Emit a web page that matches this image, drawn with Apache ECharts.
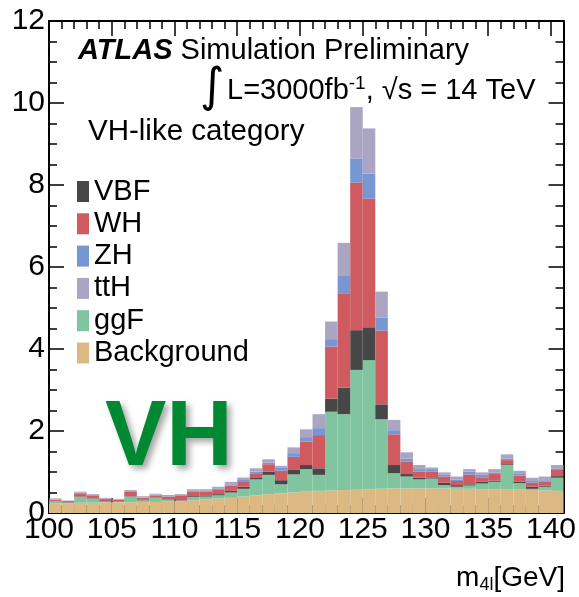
<!DOCTYPE html>
<html>
<head>
<meta charset="utf-8">
<script src="https://cdn.jsdelivr.net/npm/echarts@6/dist/echarts.min.js"></script>
<style>
  html, body { margin: 0; padding: 0; background: #fff; }
  #chart { width: 579px; height: 597px; }
</style>
</head>
<body>
<div id="chart"></div>
<script>
// Lower edges of the 1 GeV bins of m4l
const binLow = [100,101,102,103,104,105,106,107,108,109,110,111,112,113,114,115,116,117,118,119,
                120,121,122,123,124,125,126,127,128,129,130,131,132,133,134,135,136,137,138,139,140];

// Expected events per bin for each process (stacked from the bottom)
const background = [0.24,0.24,0.25,0.25,0.26,0.26,0.26,0.27,0.27,0.28,0.29,0.31,0.33,0.35,0.37,0.40,0.43,0.46,0.48,0.50,
                    0.52,0.54,0.55,0.56,0.57,0.58,0.59,0.60,0.60,0.60,0.60,0.60,0.59,0.59,0.58,0.58,0.57,0.57,0.56,0.55,0.54];
const ggF = [0.05,0.01,0.14,0.10,0.01,0.01,0.14,0.04,0.10,0.05,0.01,0.08,0.07,0.08,0.13,0.19,0.39,0.47,0.22,0.44,
             0.55,0.39,1.92,1.85,2.92,3.15,1.70,0.37,0.29,0.22,0.24,0.08,0.05,0.08,0.14,0.18,0.60,0.16,0.03,0.09,0.32];
const VBF = [0.005,0.01,0.01,0.01,0.01,0.005,0.01,0.01,0.01,0.01,0.01,0.02,0.03,0.03,0.04,0.055,0.05,0.08,0.10,0.11,
             0.10,0.16,0.32,0.65,0.97,0.80,0.36,0.20,0.06,0.04,0.03,0.06,0.04,0.03,0.04,0.03,0.02,0.03,0.05,0.03,0.04];
const WH = [0.03,0.03,0.08,0.06,0.06,0.05,0.11,0.05,0.04,0.06,0.11,0.11,0.09,0.10,0.13,0.13,0.10,0.18,0.23,0.32,
            0.57,0.81,1.27,2.30,3.60,3.14,1.80,0.75,0.30,0.15,0.14,0.15,0.10,0.24,0.11,0.16,0.10,0.15,0.10,0.09,0.15];
const ZH = [0.01,0.005,0.02,0.02,0.01,0.01,0.02,0.01,0.03,0.01,0.02,0.02,0.02,0.04,0.03,0.03,0.04,0.04,0.07,0.09,
            0.11,0.17,0.18,0.42,0.59,0.61,0.32,0.10,0.08,0.06,0.06,0.04,0.04,0.07,0.06,0.04,0.04,0.06,0.04,0.04,0.04];
const ttH = [0.02,0.01,0.02,0.02,0.02,0.01,0.02,0.03,0.02,0.03,0.02,0.04,0.04,0.04,0.06,0.06,0.08,0.08,0.05,0.14,
             0.19,0.34,0.43,0.81,1.25,1.10,0.63,0.25,0.15,0.10,0.04,0.06,0.07,0.06,0.06,0.08,0.10,0.06,0.08,0.09,0.08];

// Axis settings
const xMin = 100, xMax = 141, xStep = 5;
const yMin = 0, yMax = 12, yStep = 2;
const legendOrder = ['VBF', 'WH', 'ZH', 'ttH', 'ggF', 'Background'];

const FONT = '"Liberation Sans", Arial, Helvetica, sans-serif';

// Stack order, bottom to top
const processes = [
  { name: 'Background', data: background, color: '#dcb982' },
  { name: 'ggF',        data: ggF,        color: '#80c4a0' },
  { name: 'VBF',        data: VBF,        color: '#474747' },
  { name: 'WH',         data: WH,         color: '#cf5a5f' },
  { name: 'ZH',         data: ZH,         color: '#7896d2' },
  { name: 'ttH',        data: ttH,        color: '#aaa5c3' }
];

const chart = echarts.init(document.getElementById('chart'), null, { renderer: 'canvas' });

const tickStyle = { color: '#000', width: 1.5 };
function frameAxis(extra) {
  return Object.assign({
    axisLine: { show: true, onZero: false, lineStyle: { color: '#000', width: 2 } },
    axisTick: { show: true, inside: true, length: 15, lineStyle: tickStyle },
    minorTick: { show: true, length: 8, lineStyle: tickStyle },
    splitLine: { show: false },
    minorSplitLine: { show: false }
  }, extra);
}

const option = {
  animation: false,
  backgroundColor: '#fff',
  textStyle: { fontFamily: FONT },
  grid: { left: 49, right: 14, top: 21, bottom: 84 },
  xAxis: [
    { type: 'category', data: binLow.map(String), show: false, boundaryGap: true, position: 'bottom' },
    frameAxis({
      type: 'value', position: 'bottom', min: xMin, max: xMax, interval: xStep,
      minorTick: { show: true, splitNumber: 5, length: 8, lineStyle: tickStyle },
      axisLabel: {
        show: true, color: '#000', fontSize: 30, fontFamily: FONT, margin: 2,
        formatter: v => (v % xStep === 0 ? String(v) : '')
      }
    }),
    frameAxis({
      type: 'value', position: 'top', min: xMin, max: xMax, interval: xStep,
      minorTick: { show: true, splitNumber: 5, length: 8, lineStyle: tickStyle },
      axisLabel: { show: false }
    })
  ],
  yAxis: [
    frameAxis({
      type: 'value', position: 'left', min: yMin, max: yMax, interval: yStep,
      minorTick: { show: true, splitNumber: 4, length: 8, lineStyle: tickStyle },
      axisLabel: { show: true, color: '#000', fontSize: 30, fontFamily: FONT, margin: 4 }
    }),
    frameAxis({
      type: 'value', position: 'right', min: yMin, max: yMax, interval: yStep,
      minorTick: { show: true, splitNumber: 4, length: 8, lineStyle: tickStyle },
      axisLabel: { show: false }
    })
  ],
  legend: {
    data: legendOrder,
    orient: 'vertical',
    left: 77, top: 177,
    padding: 0,
    icon: 'rect',
    itemWidth: 12, itemHeight: 21, itemGap: 3.3,
    selectedMode: false,
    textStyle: { fontSize: 29, color: '#000', fontFamily: FONT }
  },
  series: processes.map(p => ({
    name: p.name,
    type: 'bar',
    xAxisIndex: 0,
    yAxisIndex: 0,
    stack: 'signal',
    barCategoryGap: '0%',
    barGap: '0%',
    itemStyle: { color: p.color },
    emphasis: { disabled: true },
    data: p.data
  })),
  graphic: [
    {
      type: 'text', left: 78, top: 36,
      style: {
        text: '{b|ATLAS} Simulation Preliminary',
        fill: '#000',
        font: '29px ' + FONT,
        rich: { b: { font: 'italic bold 29px ' + FONT, fill: '#000' } }
      }
    },
    {
      type: 'text', left: 200, top: 65,
      style: { text: '\u222B', fill: '#000', font: '47px "DejaVu Sans", ' + FONT }
    },
    {
      type: 'text', left: 227, top: 74,
      style: {
        text: 'L=3000fb{sup|-1}, \u221As = 14 TeV',
        fill: '#000',
        font: '29px ' + FONT,
        rich: { sup: { font: '19px ' + FONT, fill: '#000', verticalAlign: 'top', padding: [0, 0, 14, 0] } }
      }
    },
    {
      type: 'text', left: 88, top: 117,
      style: { text: 'VH-like category', fill: '#000', font: '29.5px ' + FONT }
    },
    {
      type: 'text', left: 105, top: 394,
      style: {
        text: 'VH', fill: '#008833',
        font: 'bold 92px ' + FONT,
        textShadowColor: 'rgba(0,0,0,0.35)', textShadowBlur: 6,
        textShadowOffsetX: 4, textShadowOffsetY: 4
      }
    },
    {
      type: 'text', right: 14, top: 564,
      style: {
        text: 'm{sub|4l}[GeV]',
        fill: '#000',
        font: '28px ' + FONT,
        rich: { sub: { font: '18px ' + FONT, fill: '#000', padding: [14, 0, 0, 0] } }
      }
    }
  ]
};

chart.setOption(option);
</script>
</body>
</html>
